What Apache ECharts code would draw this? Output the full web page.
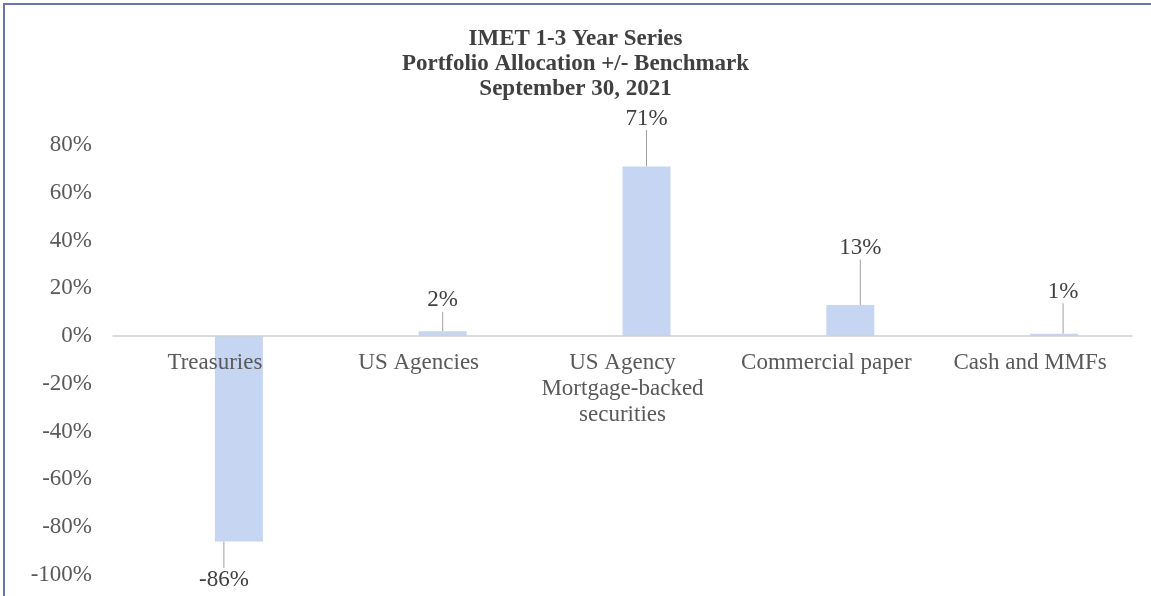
<!DOCTYPE html>
<html>
<head>
<meta charset="utf-8">
<script src="https://cdn.jsdelivr.net/npm/echarts@6/dist/echarts.min.js"></script>
<style>
    html, body { margin: 0; padding: 0; background: #fff; }
    #frame { position: absolute; left: 3px; top: 3px; width: 1148px; height: 593px;
        border-top: 2px solid #6a77a8; border-left: 2px solid #6a77a8; box-sizing: border-box; }
    #main { position: absolute; left: 0; top: 0; width: 1151px; height: 596px; }
</style>
</head>
<body>
<div id="frame"></div>
<div id="main"></div>
<script>
    // categories and values (percent, allocation minus benchmark)
    const categories = ['Treasuries', 'US Agencies', 'US Agency\nMortgage-backed\nsecurities', 'Commercial paper', 'Cash and MMFs'];
    const allocation = [-86, 2, 71, 13, 1];
    const spacer = [null, null, null, null, null]; // empty first slot, pushes bars right like the original
    const yTicks = [-100, 80, 20]; // min, max, step

    // label offsets from bar end [dx, distance]
    const labelShift = [[-15, 38], [0, 31], [0, 48], [10, 57], [9, 42]];

    const serif = '"Liberation Serif", "Times New Roman", serif';

    let myChart = echarts.init(document.getElementById('main'));
    let option = {
        animation: false,
        title: {
            text: 'IMET 1-3 Year Series\nPortfolio Allocation +/- Benchmark\nSeptember 30, 2021',
            left: 'center',
            top: 22,
            textStyle: {
                fontFamily: serif,
                fontSize: 23,
                fontWeight: 'bold',
                color: '#404040',
                lineHeight: 25
            }
        },
        grid: {
            left: 113,
            right: 19,
            top: 145,
            bottom: 21,
            outerBoundsMode: 'none'
        },
        xAxis: {
            type: 'category',
            data: categories,
            z: 5,
            axisTick: { show: false },
            axisLine: { onZero: true, lineStyle: { color: '#d0d0d0', width: 1.5 } },
            axisLabel: {
                interval: 0,
                margin: 14,
                fontFamily: serif,
                fontSize: 23,
                lineHeight: 26,
                color: '#595959'
            }
        },
        yAxis: {
            type: 'value',
            min: yTicks[0],
            max: yTicks[1],
            interval: yTicks[2],
            splitLine: { show: false },
            axisLine: { show: false },
            axisTick: { show: false },
            axisLabel: {
                margin: 21,
                formatter: '{value}%',
                fontFamily: serif,
                fontSize: 23,
                color: '#595959'
            }
        },
        series: [
            {
                name: 'spacer',
                type: 'bar',
                data: spacer,
                barWidth: 48,
                barGap: '0%'
            },
            {
                name: 'Allocation',
                type: 'bar',
                data: allocation,
                barWidth: 48,
                barGap: '0%',
                itemStyle: {
                    color: '#c6d6f2'
                },
                label: {
                    show: true,
                    position: 'inside',
                    formatter: '{c}%',
                    fontFamily: serif,
                    fontSize: 23,
                    color: '#404040',
                    align: 'center',
                    verticalAlign: 'middle'
                },
                labelLine: {
                    show: true,
                    lineStyle: { color: '#a0a0a0', width: 1 }
                },
                labelLayout: function (p) {
                    let s = labelShift[p.dataIndex];
                    let r = p.rect;
                    let cx = r.x + r.width / 2 + s[0];
                    let y = allocation[p.dataIndex] < 0 ? r.y + r.height + s[1] : r.y - s[1];
                    return { x: cx, y: y };
                }
            }
        ]
    };
    myChart.setOption(option);

    // category labels sit under the zero line, not at the bottom of the grid
    let zeroY = myChart.convertToPixel({ yAxisIndex: 0 }, 0);
    let bottomY = myChart.convertToPixel({ yAxisIndex: 0 }, yTicks[0]);
    myChart.setOption({
        xAxis: { axisLabel: { margin: 14 - (bottomY - zeroY) } }
    });
</script>
</body>
</html>
